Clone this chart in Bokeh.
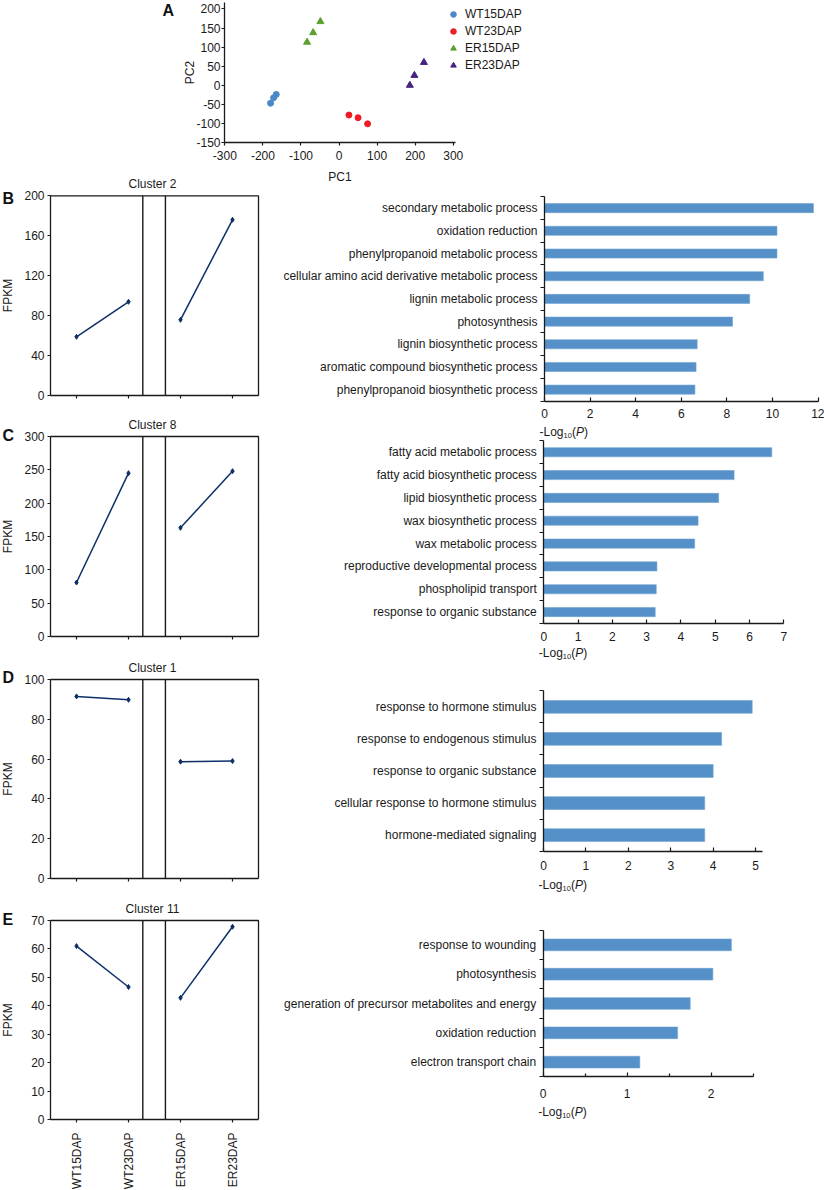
import math
from bokeh.plotting import figure
from bokeh.models import Range1d, FixedTicker, Label, Legend, LegendItem
from bokeh.layouts import column, row
from bokeh.embed import file_html
from bokeh.resources import INLINE

FONT = "Liberation Sans"
INK = "#1a1a1a"
LINE = "#0c2f66"
BAR = "#5591c8"

# ---- PCA data
wt15_pc1 = [-180, -172, -165]
wt15_pc2 = [-47, -33, -24]
wt23_pc1 = [26, 50, 75]
wt23_pc2 = [-78, -85, -101]
er15_pc1 = [-84, -68, -49]
er15_pc2 = [113, 138, 167]
er23_pc1 = [186, 198, 223]
er23_pc2 = [0, 26, 60]
pca_x_ticks = [-300, -200, -100, 0, 100, 200, 300]
pca_y_ticks = [-150, -100, -50, 0, 50, 100, 150, 200]

# ---- Cluster line panels
stages = ["WT15DAP", "WT23DAP", "ER15DAP", "ER23DAP"]
cluster_names = ["Cluster 2", "Cluster 8", "Cluster 1", "Cluster 11"]
cluster2 = [59, 94, 76, 176]
cluster8 = [81, 245, 163, 248]
cluster1 = [91.5, 89.8, 58.7, 59]
cluster11 = [61, 46.6, 42.8, 67.8]
cluster2_ticks = [0, 40, 80, 120, 160, 200]
cluster8_ticks = [0, 50, 100, 150, 200, 250, 300]
cluster1_ticks = [0, 20, 40, 60, 80, 100]
cluster11_ticks = [0, 10, 20, 30, 40, 50, 60, 70]

# ---- GO enrichment bars
go_b_terms = ["secondary metabolic process", "oxidation reduction", "phenylpropanoid metabolic process",
              "cellular amino acid derivative metabolic process", "lignin metabolic process", "photosynthesis",
              "lignin biosynthetic process", "aromatic compound biosynthetic process",
              "phenylpropanoid biosynthetic process"]
go_b_vals = [11.8, 10.2, 10.2, 9.6, 9.0, 8.25, 6.7, 6.65, 6.6]
go_c_terms = ["fatty acid metabolic process", "fatty acid biosynthetic process", "lipid biosynthetic process",
              "wax biosynthetic process", "wax metabolic process", "reproductive developmental process",
              "phospholipid transport", "response to organic substance"]
go_c_vals = [6.65, 5.55, 5.1, 4.5, 4.4, 3.3, 3.28, 3.25]
go_d_terms = ["response to hormone stimulus", "response to endogenous stimulus", "response to organic substance",
              "cellular response to hormone stimulus", "hormone-mediated signaling"]
go_d_vals = [4.92, 4.2, 4.0, 3.8, 3.8]
go_e_terms = ["response to wounding", "photosynthesis", "generation of precursor metabolites and energy",
              "oxidation reduction", "electron transport chain"]
go_e_vals = [2.24, 2.02, 1.75, 1.6, 1.15]


def full_range(px0, px1, v0, v1, total):
    """Range covering a whole canvas side of `total` px, with value v0 at px0 and v1 at px1."""
    scale = (v1 - v0) / (px1 - px0)
    start = v0 - px0 * scale
    return start, start + total * scale


def make_fig(W, H, xpx, xval, ypx, yval, margin=0):
    xs, xe = full_range(xpx[0], xpx[1], xval[0], xval[1], W)
    ys, ye = full_range(ypx[0], ypx[1], yval[0], yval[1], H)   # ys = value at canvas top
    p = figure(width=W, height=H, output_backend="svg", toolbar_location=None, frame_align=False,
               x_range=Range1d(xs, xe), y_range=Range1d(ye, ys),
               min_border_left=0, min_border_right=0, min_border_top=0, min_border_bottom=0,
               outline_line_color=None, margin=margin)
    p.grid.visible = False
    return p


def style_axis(ax):
    ax.axis_line_color = INK
    ax.axis_line_width = 1.3
    ax.major_tick_line_color = INK
    ax.major_tick_line_width = 1.2
    ax.minor_tick_line_color = INK
    ax.minor_tick_line_width = 1.2
    ax.major_label_text_font = FONT
    ax.major_label_text_font_size = "12px"
    ax.major_label_text_color = INK
    ax.axis_label_text_font = FONT
    ax.axis_label_text_font_size = "12px"
    ax.axis_label_text_font_style = "normal"
    ax.axis_label_text_color = INK
    ax.major_tick_in = 0
    ax.major_tick_out = 3
    ax.minor_tick_in = 0
    ax.minor_tick_out = 0


def text_at(p, text, x, y_top, size="12px", style="normal", align="left", color=INK):
    p.add_layout(Label(x=x, y=p.height - y_top, x_units="screen", y_units="screen", text=text,
                       text_font=FONT, text_font_size=size, text_font_style=style, text_color=color,
                       text_baseline="middle", text_align=align))


# ---- Panel A
pca = make_fig(824, 184, (224, 455), (-301, 306), (2, 142), (217, -150), margin=(0, 0, -12, 0))
r1 = pca.scatter(wt15_pc1, wt15_pc2, marker="circle", size=6, color="#4a88c7")
r2 = pca.scatter(wt23_pc1, wt23_pc2, marker="circle", size=6, color="#ee1c25")
r3 = pca.scatter(er15_pc1, er15_pc2, marker="triangle", size=7, color="#5ba02e")
r4 = pca.scatter(er23_pc1, er23_pc2, marker="triangle", size=7, color="#46247f")
xa, ya = pca.xaxis[0], pca.yaxis[0]
style_axis(xa)
style_axis(ya)
xa.fixed_location = -150
xa.bounds = (-301, 306)
ya.fixed_location = -301
ya.bounds = (-150, 217)
xa.ticker = FixedTicker(ticks=pca_x_ticks)
ya.ticker = FixedTicker(ticks=pca_y_ticks)
xa.major_label_overrides = {t: str(t) for t in pca_x_ticks}
ya.major_label_overrides = {t: str(t) for t in pca_y_ticks}
xa.axis_label = "PC1"
xa.major_label_standoff = 5
xa.axis_label_standoff = 7
ya.axis_label = "PC2"
ya.major_label_standoff = 1
ya.axis_label_standoff = -4
leg = Legend(items=[LegendItem(label="WT15DAP", renderers=[r1]),
                    LegendItem(label="WT23DAP", renderers=[r2]),
                    LegendItem(label="ER15DAP", renderers=[r3]),
                    LegendItem(label="ER23DAP", renderers=[r4])],
             location=(446, 112), orientation="vertical", margin=0, padding=0, spacing=3,
             glyph_width=14, glyph_height=14, label_height=14, label_standoff=5,
             label_text_font=FONT, label_text_font_size="12px", label_text_color=INK,
             background_fill_alpha=0, border_line_color=None)
pca.add_layout(leg)
text_at(pca, "A", 162, 10, size="16px", style="bold", color="#111111")


def cluster_panel(name, vals, ticks, ltr, H, top, bottom, standoff, letter_y, last=False):
    ymax = ticks[-1]
    n = len(stages)
    pos = [i + 0.5 for i in range(n)]
    p = make_fig(270, H, (50, 258), (0, n), (top, bottom), (ymax, 0))
    xa, ya = p.xaxis[0], p.yaxis[0]
    style_axis(xa)
    style_axis(ya)
    xa.fixed_location = 0
    xa.bounds = (0, n)
    ya.fixed_location = 0
    ya.bounds = (0, ymax)
    ya.ticker = FixedTicker(ticks=ticks)
    ya.major_label_standoff = 3
    ya.axis_label = "FPKM"
    ya.axis_label_standoff = standoff
    xa.ticker = FixedTicker(ticks=pos)
    if last:
        xa.major_label_overrides = dict(zip(pos, stages))
        xa.major_label_orientation = math.pi / 2
        xa.major_label_standoff = 10
    else:
        xa.major_label_overrides = {q: "" for q in pos}
    # top and right edges of the box, and the two dividers
    p.line([0, n, n], [ymax, ymax, 0], line_color=INK, line_width=1.3)
    for loc in SEPARATORS:
        p.line([loc, loc], [0, ymax], line_color=INK, line_width=1.4)
    p.line(pos[:2], vals[:2], line_color=LINE, line_width=1.5)
    p.line(pos[2:], vals[2:], line_color=LINE, line_width=1.5)
    p.scatter(pos, vals, marker="diamond", size=5, color=LINE)
    text_at(p, name, 152, top - 12, align="center")
    text_at(p, ltr, 2, letter_y, size="16px", style="bold", color="#111111")
    return p


SEPARATORS = [1.775, 2.21]

left = column(
    cluster_panel(cluster_names[0], cluster2, cluster2_ticks, "B", 244, 23.3, 223.3, 6, 26),
    cluster_panel(cluster_names[1], cluster8, cluster8_ticks, "C", 242, 20, 220, 6, 19),
    cluster_panel(cluster_names[2], cluster1, cluster1_ticks, "D", 241, 21, 220, 6, 19),
    cluster_panel(cluster_names[3], cluster11, cluster11_ticks, "E", 290, 21, 220, 13, 20, last=True),
)


def go_panel(terms, vals, H, xpx, xval, ypx, xticks, minor, label_standoff, log_y, margin=0):
    n = len(terms)
    centers = [i + 0.5 for i in range(n)]
    p = make_fig(554, H, xpx, xval, ypx, (0, n), margin=margin)
    p.hbar(y=centers, right=vals, left=0, height=0.4, fill_color=BAR, line_color="#6ea3d4", line_width=0.6)
    xa, ya = p.xaxis[0], p.yaxis[0]
    style_axis(xa)
    style_axis(ya)
    xa.fixed_location = n
    xa.bounds = (0, xval[1])
    ya.fixed_location = 0
    ya.bounds = (0, n)
    xa.ticker = FixedTicker(ticks=xticks, minor_ticks=minor)
    xa.major_tick_in = 4
    xa.major_tick_out = 0
    xa.minor_tick_in = 3
    xa.minor_tick_out = 0
    xa.major_label_standoff = label_standoff
    ya.ticker = FixedTicker(ticks=centers, minor_ticks=list(range(n + 1)))
    ya.major_label_overrides = dict(zip(centers, terms))
    ya.major_tick_in = 0
    ya.major_tick_out = 0
    ya.minor_tick_in = 0
    ya.minor_tick_out = 4
    ya.major_label_standoff = 3
    # "-Log10(P)" axis title, built from real text runs
    x0 = xpx[0] - 5
    text_at(p, "-Log", x0, log_y)
    text_at(p, "10", x0 + 24, log_y + 4, size="7.5px")
    text_at(p, "(", x0 + 32.5, log_y)
    text_at(p, "P", x0 + 36.5, log_y, style="italic")
    text_at(p, ")", x0 + 44.5, log_y)
    return p


right = column(
    go_panel(go_b_terms, go_b_vals, 255, (274, 547.5), (0, 12), (12.3, 216.5), [0, 2, 4, 6, 8, 10, 12], [], 8, 247,
             margin=(12, 0, 0, 0)),
    go_panel(go_c_terms, go_c_vals, 241, (273.3, 513.3), (0, 7), (1.3, 184), [0, 1, 2, 3, 4, 5, 6, 7], [], 8, 213),
    go_panel(go_d_terms, go_d_vals, 240, (273, 492.3), (0, 5.17), (10.3, 170.7), [0, 1, 2, 3, 4, 5], [], 10, 204),
    go_panel(go_e_terms, go_e_vals, 262, (272.7, 482.7), (0, 2.5), (9.7, 156.3), [0, 1, 2], [0.5, 1.5, 2.5], 12, 191),
)

page = column(pca, row(left, right, margin=0))
open("out.html", "w").write(file_html(page, INLINE))
